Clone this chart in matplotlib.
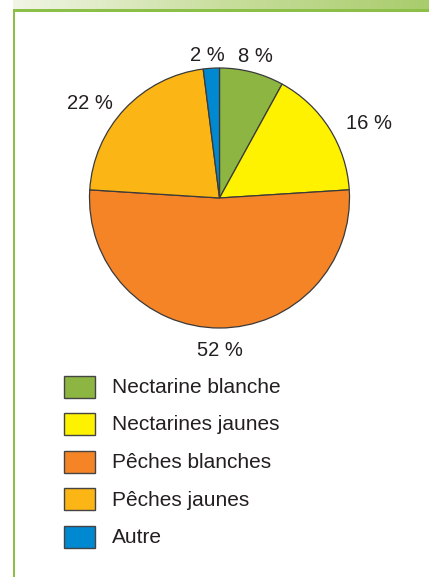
import numpy as np
import matplotlib
matplotlib.use("Agg")
import matplotlib.pyplot as plt
from matplotlib.patches import Rectangle
from matplotlib.colors import LinearSegmentedColormap

plt.rcParams['font.family'] = ['Liberation Sans', 'DejaVu Sans']

# ---- data ----
categories = ["Nectarine blanche", "Nectarines jaunes", "Pêches blanches", "Pêches jaunes", "Autre"]
shares = [8, 16, 52, 22, 2]
pct_labels = ["8 %", "16 %", "52 %", "22 %", "2 %"]
colors = ["#8db541", "#fff200", "#f58426", "#fbb515", "#0088d0"]

# label positions (in units of pie radius, relative to centre)
label_pos = [(0.28, 1.09), (1.15, 0.573), (0.004, -1.173), (-0.996, 0.727), (-0.09, 1.095)]

W, H = 429, 577
fig = plt.figure(figsize=(W / 100, H / 100), dpi=100)

# background / frame axes in pixel coordinates
bg = fig.add_axes([0, 0, 1, 1])
bg.axis('off')

grad = np.linspace(0, 1, 256)[None, :]
cmap = LinearSegmentedColormap.from_list("band", ["#f1f5e6", "#c9de9e", "#a9cc6c"])
bg.imshow(grad, extent=(13, W, 9, 0), aspect='auto', cmap=cmap, zorder=0)
bg.add_patch(Rectangle((13, 9), W - 13, 2.5, facecolor="#8cbf48", edgecolor='none', zorder=1))
bg.add_patch(Rectangle((12.5, 9), 2.6, H - 9, facecolor="#8cbf48", edgecolor='none', zorder=1))
bg.set_xlim(0, W)
bg.set_ylim(H, 0)

# pie axes
cx, cy, r = 219.5, 198.0, 130.0
m = 1.45
ax = fig.add_axes([(cx - m * r) / W, 1 - (cy + m * r) / H, 2 * m * r / W, 2 * m * r / H])
wedges, _ = ax.pie(shares, colors=colors, startangle=90, counterclock=False, radius=1.0,
                   wedgeprops=dict(edgecolor="#3a3a3a", linewidth=0.9))
ax.set_xlim(-m, m)
ax.set_ylim(-m, m)
ax.set_aspect('equal')
ax.axis('off')

for lab, (x, y) in zip(pct_labels, label_pos):
    ax.text(x, y, lab, ha='center', va='center', fontsize=14.5, color="#231f20")

# legend
y0, dy = 386.5, 37.5
for i, (cat, col) in enumerate(zip(categories, colors)):
    yc = y0 + i * dy
    bg.add_patch(Rectangle((64, yc - 11), 31, 22, facecolor=col, edgecolor="#444444", linewidth=1.0, zorder=2))
    bg.text(112, yc + 1, cat, ha='left', va='center', fontsize=15, color="#231f20")

fig.savefig("out.png", dpi=100)
